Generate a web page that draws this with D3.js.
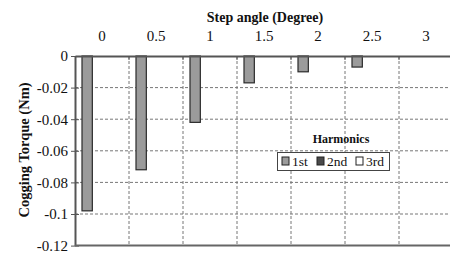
<!DOCTYPE html>
<html><head><meta charset="utf-8">
<script src="https://cdn.jsdelivr.net/npm/d3@7"></script>
<style>body{margin:0;background:#fff}svg{display:block}</style>
</head><body>
<svg id="c" width="450" height="254"></svg>
<script>
const categories = ["0","0.5","1","1.5","2","2.5","3"];
const seriesNames = ["1st","2nd","3rd"];
const first = [-0.098,-0.072,-0.042,-0.017,-0.010,-0.007,0];
const second = [0,0,0,0,0,0,0];
const third = [0,0,0,0,0,0,0];
const yTicks = [0,-0.02,-0.04,-0.06,-0.08,-0.1,-0.12];
const yTickLabels = ["0","-0.02","-0.04","-0.06","-0.08","-0.1","-0.12"];
const colors = ["#9b9b9b","#4a4a4a","#ffffff"];
const allSeries = [first, second, third];

const svg = d3.select("#c");
const font = "'Liberation Serif', 'Times New Roman', serif";
const L = 75, R = 453, T = 56, B = 245.6;
const x0 = d3.scaleBand().domain(categories).range([L, R]).padding(0);
const x1 = d3.scaleBand().domain(seriesNames).range([7, 38]).padding(0);
const y = d3.scaleLinear().domain([0, -0.12]).range([T, B]);

// gridlines
const g = svg.append("g");
g.selectAll("line.h").data(yTicks.filter(d => d !== 0 && d !== -0.12)).join("line")
  .attr("x1", L).attr("x2", 450).attr("y1", d => y(d)).attr("y2", d => y(d))
  .attr("stroke", "#777").attr("stroke-dasharray", "3,2").attr("stroke-width", 1);
g.selectAll("line.v").data(categories.slice(1)).join("line")
  .attr("x1", d => x0(d)).attr("x2", d => x0(d)).attr("y1", T).attr("y2", B)
  .attr("stroke", "#777").attr("stroke-dasharray", "3,2").attr("stroke-width", 1);

// bars
seriesNames.forEach((s, i) => {
  svg.append("g").selectAll("rect").data(categories.map((c, j) => ({c, v: allSeries[i][j]})).filter(d => d.v !== 0))
    .join("rect")
    .attr("x", d => x0(d.c) + x1(s)).attr("width", x1.bandwidth())
    .attr("y", y(0)).attr("height", d => y(d.v) - y(0))
    .attr("fill", colors[i]).attr("stroke", "#2a2a2a").attr("stroke-width", 1.2);
});

// left axis
const yAxis = d3.axisLeft(y).tickValues(yTicks).tickFormat((d, i) => yTickLabels[i]).tickSize(4).tickSizeOuter(0);
const ya = svg.append("g").attr("transform", `translate(${L},0)`).call(yAxis);
ya.attr("font-family", null).attr("font-size", null);
ya.select(".domain").attr("stroke", "#555").attr("stroke-width", 2);
ya.selectAll(".tick line").attr("stroke", "#555").attr("x2", 4).attr("x1", -4);
ya.selectAll(".tick text").style("font-family", font).style("font-size", "15px").attr("fill", "#111").attr("x", -7);

// top axis
const xAxis = d3.axisTop(x0).tickSize(0).tickSizeOuter(0);
const xa = svg.append("g").attr("transform", `translate(0,${T})`).call(xAxis);
xa.attr("font-family", null).attr("font-size", null);
xa.select(".domain").attr("stroke", "#555").attr("stroke-width", 2);
xa.selectAll(".tick text").style("font-family", font).style("font-size", "15px").attr("fill", "#111").attr("y", -15).attr("dy", 0);
svg.append("g").selectAll("line").data(categories.slice(1)).join("line")
  .attr("x1", d => x0(d)).attr("x2", d => x0(d)).attr("y1", T).attr("y2", T + 4)
  .attr("stroke", "#555");

// bottom line
svg.append("line").attr("x1", L).attr("x2", 450).attr("y1", B).attr("y2", B).attr("stroke", "#666").attr("stroke-width", 2);

// titles
svg.append("text").attr("x", 265).attr("y", 22).attr("text-anchor", "middle")
  .style("font-family", font).attr("font-weight", "bold").style("font-size", "14px").attr("fill", "#111").text("Step angle (Degree)");
svg.append("text").attr("transform", "translate(29,150) rotate(-90)").attr("text-anchor", "middle")
  .style("font-family", font).attr("font-weight", "bold").style("font-size", "14.5px").attr("fill", "#111").text("Cogging Torque (Nm)");

// legend
const lg = svg.append("g");
lg.append("text").attr("x", 341).attr("y", 143).attr("text-anchor", "middle")
  .style("font-family", font).attr("font-weight", "bold").style("font-size", "12px").attr("fill", "#111").text("Harmonics");
lg.append("rect").attr("x", 277.5).attr("y", 152.5).attr("width", 112).attr("height", 18)
  .attr("fill", "#fff").attr("stroke", "#444").attr("stroke-width", 1);
const lx = [282, 317, 356];
seriesNames.forEach((s, i) => {
  lg.append("rect").attr("x", lx[i]).attr("y", 157).attr("width", 7).attr("height", 8)
    .attr("fill", colors[i]).attr("stroke", "#222").attr("stroke-width", 1);
  lg.append("text").attr("x", lx[i] + 10).attr("y", 166).style("font-family", font).style("font-size", "13.5px")
    .attr("fill", "#111").text(s);
});
</script>
</body></html>
